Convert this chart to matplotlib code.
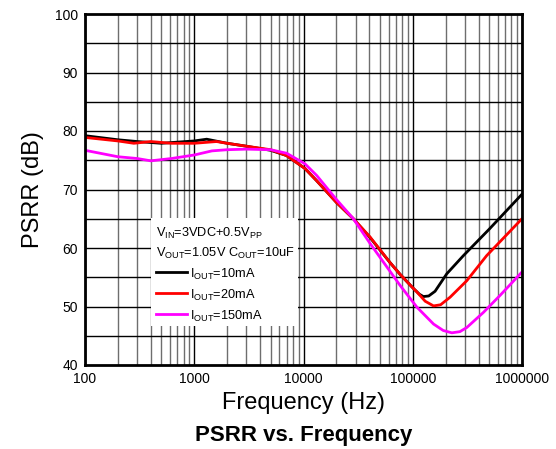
import matplotlib
matplotlib.use("Agg")
import matplotlib.pyplot as plt
from matplotlib.patches import Rectangle
from matplotlib.lines import Line2D
from matplotlib.ticker import FixedLocator, NullFormatter

plt.rcParams['font.family'] = ['Liberation Sans', 'DejaVu Sans']
plt.rcParams['mathtext.fontset'] = 'custom'
plt.rcParams['mathtext.rm'] = 'Liberation Sans'
plt.rcParams['mathtext.it'] = 'Liberation Sans'

freq_10mA = [100, 200, 300, 500, 1000, 1300, 2000, 3000, 5000, 7000, 10300, 13200, 20000,
             28600, 40600, 62000, 76600, 100000, 115000, 125000, 140000, 160000, 205000,
             291000, 500000, 1000000]
psrr_10mA = [79.2, 78.5, 78.2, 77.9, 78.3, 78.6, 77.9, 77.4, 76.7, 75.8, 73.6, 71.5, 67.8,
             65.0, 61.8, 57.5, 55.5, 53.2, 52.1, 51.7, 51.8, 52.6, 55.6,
             58.7, 63.2, 69.2]

freq_20mA = [100, 200, 280, 400, 620, 1000, 1600, 2000, 3000, 5000, 7000, 10300, 13200, 20000,
             28600, 40600, 62000, 76600, 100000, 109000, 130000, 155000, 180000, 220000,
             312000, 475000, 1000000]
psrr_20mA = [78.9, 78.3, 77.9, 78.2, 77.9, 77.9, 78.2, 77.9, 77.4, 76.8, 75.8, 73.6, 71.5, 67.8,
             65.0, 61.9, 57.5, 55.5, 53.2, 52.5, 50.9, 50.1, 50.3, 51.6,
             54.4, 58.7, 65.0]

freq_150mA = [100, 200, 300, 400, 620, 1000, 1450, 2000, 3000, 5000, 7000, 10300, 13200, 20000,
              28600, 40600, 62000, 76600, 109000, 155000, 190000, 228000, 270000, 312000,
              444000, 630000, 1000000]
psrr_150mA = [76.7, 75.6, 75.3, 74.9, 75.3, 75.9, 76.6, 76.8, 76.9, 76.8, 76.2, 74.4, 72.4, 68.3,
              65.0, 60.8, 56.0, 53.6, 49.9, 47.0, 45.9, 45.5, 45.7, 46.4,
              49.0, 51.9, 55.9]

x_ticks = [100, 1000, 10000, 100000, 1000000]
x_tick_labels = ['100', '1000', '10000', '100000', '1000000']
y_ticks = [40, 50, 60, 70, 80, 90, 100]

series_labels = [r'I$_{\mathrm{OUT}}$=10mA', r'I$_{\mathrm{OUT}}$=20mA', r'I$_{\mathrm{OUT}}$=150mA']
series_colors = ['#000000', '#ff0000', '#ff00ff']
cond_lines = [r'V$_{\mathrm{IN}}$=3VDC+0.5V$_{\mathrm{PP}}$',
              r'V$_{\mathrm{OUT}}$=1.05V C$_{\mathrm{OUT}}$=10uF']

fig = plt.figure(figsize=(5.56, 4.49), dpi=100)
ax = fig.add_axes([85/556, 1-365/449, (522-85)/556, (365-14)/449])
ax.set_xscale('log')
ax.set_xlim(100, 1e6)
ax.set_ylim(40, 100)

# grid
minor = [m * 10**e for e in range(2, 6) for m in range(2, 10)]
for f in minor:
    ax.axvline(f, color='#6e6e6e', lw=1.0, zorder=1)
for f in x_ticks:
    ax.axvline(f, color='black', lw=1.0, zorder=1)
for v in range(45, 100, 5):
    ax.axhline(v, color='black', lw=1.0, zorder=1)

ax.set_xticks(x_ticks)
ax.set_xticklabels(x_tick_labels)
ax.xaxis.set_minor_locator(FixedLocator(minor))
ax.xaxis.set_minor_formatter(NullFormatter())
ax.set_yticks(y_ticks)
ax.tick_params(which='both', length=0, labelsize=10, pad=5)

for s in ax.spines.values():
    s.set_linewidth(2.0)
    s.set_zorder(5)

series = [(freq_10mA, psrr_10mA), (freq_20mA, psrr_20mA), (freq_150mA, psrr_150mA)]
for (fx, fy), c in zip(series, series_colors):
    ax.plot(fx, fy, color=c, lw=2.0, zorder=4, solid_joinstyle='round', solid_capstyle='round')

# legend box
bx0, bx1 = (151-85)/437, (298-85)/437
by0, by1 = (365-326)/351, (365-218)/351
ax.add_patch(Rectangle((bx0, by0), bx1-bx0, by1-by0, transform=ax.transAxes,
                       facecolor='white', edgecolor='none', zorder=3))

def ay(py):
    return (365-py)/351

def axx(px):
    return (px-85)/437

ax.text(axx(156), ay(233), cond_lines[0], transform=ax.transAxes, fontsize=9.2,
        va='center', ha='left', zorder=6)
ax.text(axx(156), ay(253), cond_lines[1], transform=ax.transAxes, fontsize=9.2,
        va='center', ha='left', zorder=6)
for i, (lab, c) in enumerate(zip(series_labels, series_colors)):
    yy = ay(272 + 21*i)
    ax.add_line(Line2D([axx(156), axx(187)], [yy, yy], transform=ax.transAxes,
                       color=c, lw=2.0, zorder=6))
    ax.text(axx(190), yy - 0.008, lab, transform=ax.transAxes, fontsize=9.2,
            va='center', ha='left', zorder=6)

ax.set_xlabel('Frequency (Hz)', fontsize=17, labelpad=4)
ax.set_ylabel('PSRR (dB)', fontsize=17, labelpad=8)
fig.text((85+522)/2/556, 1-436/449, 'PSRR vs. Frequency', fontsize=16, fontweight='bold',
         ha='center', va='center')

fig.savefig('out.png', dpi=100)
